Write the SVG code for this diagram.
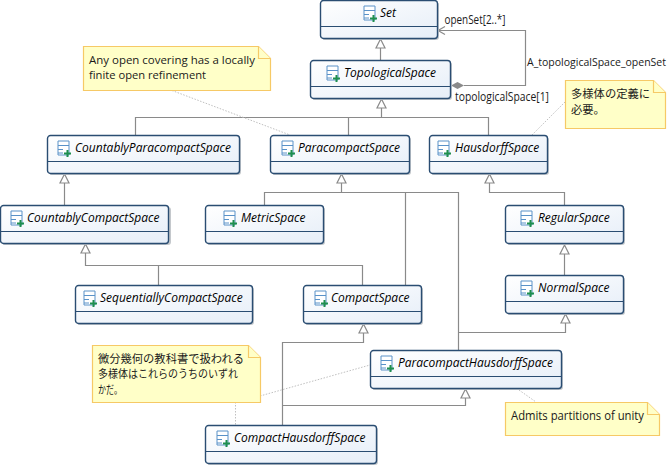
<svg xmlns="http://www.w3.org/2000/svg" width="669" height="466" viewBox="0 0 669 466">
<style>
text{font-family:"Open Sans","Noto Sans","Noto Sans CJK JP",sans-serif;font-size:12px;fill:#1a1a1a}
.n{font-style:italic;font-size:12px;fill:#000}
.s{font-size:11.4px}
.a{font-size:10.5px}
.box{fill:url(#g);stroke:#2a4d72;stroke-width:1.4}
.sh{fill:#c4c8cc}
.div{stroke:#2a4d72;stroke-width:1.2}
.c{fill:none;stroke:#8a8a8a;stroke-width:1.2}
.d{fill:none;stroke:#c0c0c0;stroke-width:1;stroke-dasharray:1.5 1.5}
.note{fill:#ffffc8;stroke:#f6c966;stroke-width:1.2}
.tri{fill:#fff;stroke:#8a8a8a;stroke-width:1.2}
.j{font-family:"Noto Sans CJK JP",sans-serif;font-size:11.3px}
</style>
<defs>
<linearGradient id="g" x1="0" y1="0" x2="1" y2="1"><stop offset="0" stop-color="#ffffff"/><stop offset="1" stop-color="#e6eef8"/></linearGradient>
<g id="ic">
<path d="M1 1H12V15H1Z" fill="#fff" stroke="#5a92c8" stroke-width="1"/>
<path d="M1 5.500H12M1 9.500H6M1 13H6" stroke="#5a92c8" stroke-width="1" fill="none"/>
<path d="M9.500 10H11.500V12.500H14V14.500H11.500V17H9.500V14.500H7V12.500H9.500Z" fill="#1f8f4f"/>
</g>
</defs>
<g id="connectors">
<path class="c" d="M380.500 60V48"/><path class="tri" d="M380.500 39l4.500 9h-9Z"/>
<path class="c" d="M381.500 117V108M135.500 135V117.500H488.500V135M348.500 117.500V135"/><path class="tri" d="M381.500 99l4.500 9h-9Z"/>
<path class="c" d="M464 85.500H525.500V30.500H438M445 26.500L438 30.500L445 34.500"/>
<path d="M451 85.500l6.500-3.500 6.500 3.500-6.500 3.500Z" fill="#8a8a8a"/>
<path class="c" d="M64.500 205V183"/><path class="tri" d="M64.500 174l4.500 9h-9Z"/>
<path class="c" d="M341.500 183V192.500M264.500 205V192.500H458.500V350M405.500 192.500V285"/><path class="tri" d="M341.500 174l4.500 9h-9Z"/>
<path class="c" d="M489.500 183V192.500H564.500V205"/><path class="tri" d="M489.500 174l4.500 9h-9Z"/>
<path class="c" d="M564.500 275V254"/><path class="tri" d="M564.500 245l4.500 9h-9Z"/>
<path class="c" d="M565.500 323V332.500H458.500"/><path class="tri" d="M565.500 314l4.500 9h-9Z"/>
<path class="c" d="M85.500 253V265.500H362.500V285M158.500 265.500V285"/><path class="tri" d="M85.500 244l4.500 9h-9Z"/>
<path class="c" d="M363.500 333V342.500H282.500V425"/><path class="tri" d="M363.500 324l4.500 9h-9Z"/>
<path class="c" d="M465.500 398V405.500H282.500"/><path class="tri" d="M465.500 389l4.500 9h-9Z"/>
<path class="d" d="M172 90.500L290 135M565 102L532 135M260 396L370 365M235.500 402V425M519 390L536 402"/>
<text x="444.500" y="24" textLength="61" lengthAdjust="spacingAndGlyphs">openSet[2..*]</text>
<text class="a" x="527" y="66" textLength="139" lengthAdjust="spacingAndGlyphs">A_topologicalSpace_openSet</text>
<text x="455" y="101" textLength="94" lengthAdjust="spacingAndGlyphs">topologicalSpace[1]</text>
</g>
<g id="Set" transform="translate(320,0)"><rect class="sh" x="2" y="2" width="117" height="38" rx="3"/><rect class="box" x="0.500" y="0.500" width="117" height="38" rx="3"/><path class="div" d="M0.500 26.500H117.500"/><use href="#ic" x="43" y="5"/><text class="n" x="60" y="17">Set</text></g>
<g id="TopologicalSpace" transform="translate(310,60)"><rect class="sh" x="2" y="2" width="140" height="38" rx="3"/><rect class="box" x="0.500" y="0.500" width="140" height="38" rx="3"/><path class="div" d="M0.500 26.500H140.500"/><use href="#ic" x="16" y="5"/><text class="n" x="34" y="17">TopologicalSpace</text></g>
<g id="CountablyParacompactSpace" transform="translate(47,135)"><rect class="sh" x="2" y="2" width="192" height="38" rx="3"/><rect class="box" x="0.500" y="0.500" width="192" height="38" rx="3"/><path class="div" d="M0.500 26.500H192.500"/><use href="#ic" x="10" y="5"/><text class="n" x="28" y="17">CountablyParacompactSpace</text></g>
<g id="ParacompactSpace" transform="translate(270,135)"><rect class="sh" x="2" y="2" width="139" height="38" rx="3"/><rect class="box" x="0.500" y="0.500" width="139" height="38" rx="3"/><path class="div" d="M0.500 26.500H139.500"/><use href="#ic" x="11" y="5"/><text class="n" x="28" y="17">ParacompactSpace</text></g>
<g id="HausdorffSpace" transform="translate(429,135)"><rect class="sh" x="2" y="2" width="118" height="38" rx="3"/><rect class="box" x="0.500" y="0.500" width="118" height="38" rx="3"/><path class="div" d="M0.500 26.500H118.500"/><use href="#ic" x="8" y="5"/><text class="n" x="26" y="17">HausdorffSpace</text></g>
<g id="CountablyCompactSpace" transform="translate(0,205)"><rect class="sh" x="2" y="2" width="169" height="38" rx="3"/><rect class="box" x="0.500" y="0.500" width="168" height="38" rx="3"/><path class="div" d="M0.500 26.500H168.500"/><use href="#ic" x="10" y="5"/><text class="n" x="27" y="17">CountablyCompactSpace</text></g>
<g id="MetricSpace" transform="translate(205,205)"><rect class="sh" x="2" y="2" width="118" height="38" rx="3"/><rect class="box" x="0.500" y="0.500" width="118" height="38" rx="3"/><path class="div" d="M0.500 26.500H118.500"/><use href="#ic" x="18" y="5"/><text class="n" x="36" y="17">MetricSpace</text></g>
<g id="RegularSpace" transform="translate(505,205)"><rect class="sh" x="2" y="2" width="118" height="38" rx="3"/><rect class="box" x="0.500" y="0.500" width="118" height="38" rx="3"/><path class="div" d="M0.500 26.500H118.500"/><use href="#ic" x="15" y="5"/><text class="n" x="33" y="17">RegularSpace</text></g>
<g id="NormalSpace" transform="translate(505,275)"><rect class="sh" x="2" y="2" width="118" height="38" rx="3"/><rect class="box" x="0.500" y="0.500" width="118" height="38" rx="3"/><path class="div" d="M0.500 26.500H118.500"/><use href="#ic" x="15" y="5"/><text class="n" x="33" y="17">NormalSpace</text></g>
<g id="SequentiallyCompactSpace" transform="translate(75,285)"><rect class="sh" x="2" y="2" width="177" height="38" rx="3"/><rect class="box" x="0.500" y="0.500" width="177" height="38" rx="3"/><path class="div" d="M0.500 26.500H177.500"/><use href="#ic" x="8" y="5"/><text class="n" x="25" y="17">SequentiallyCompactSpace</text></g>
<g id="CompactSpace" transform="translate(303,285)"><rect class="sh" x="2" y="2" width="118" height="38" rx="3"/><rect class="box" x="0.500" y="0.500" width="118" height="38" rx="3"/><path class="div" d="M0.500 26.500H118.500"/><use href="#ic" x="11" y="5"/><text class="n" x="28" y="17">CompactSpace</text></g>
<g id="ParacompactHausdorffSpace" transform="translate(370,350)"><rect class="sh" x="2" y="2" width="191" height="38" rx="3"/><rect class="box" x="0.500" y="0.500" width="191" height="38" rx="3"/><path class="div" d="M0.500 26.500H191.500"/><use href="#ic" x="10" y="5"/><text class="n" x="28" y="17">ParacompactHausdorffSpace</text></g>
<g id="CompactHausdorffSpace" transform="translate(205,425)"><rect class="sh" x="2" y="2" width="171" height="38" rx="3"/><rect class="box" x="0.500" y="0.500" width="171" height="38" rx="3"/><path class="div" d="M0.500 26.500H171.500"/><use href="#ic" x="11" y="5"/><text class="n" x="29" y="17">CompactHausdorffSpace</text></g>
<g id="note1"><path class="note" d="M83.500 46.500H258.500L270.500 58.500V90.500H83.500Z"/><path class="note" d="M258.500 46.500V58.500H270.500"/><text class="s" x="89" y="64" textLength="166" lengthAdjust="spacingAndGlyphs">Any open covering has a locally</text><text class="s" x="89" y="79" textLength="117" lengthAdjust="spacingAndGlyphs">finite open refinement</text></g>
<g id="note2"><path class="note" d="M565.500 80.500H653.500L665.500 92.500V128.500H565.500Z"/><path class="note" d="M653.500 80.500V92.500H665.500"/><text class="j" x="571" y="98">多様体の定義に</text><text class="j" x="571" y="114">必要。</text></g>
<g id="note3"><path class="note" d="M92.500 345.500H248.500L260.500 357.500V402.500H92.500Z"/><path class="note" d="M248.500 345.500V357.500H260.500"/><text class="j" x="98" y="363" textLength="146" lengthAdjust="spacingAndGlyphs">微分幾何の教科書で扱われる</text><text class="j" x="98" y="378" textLength="140" lengthAdjust="spacingAndGlyphs">多様体はこれらのうちのいずれ</text><text class="j" x="98" y="394" textLength="24" lengthAdjust="spacingAndGlyphs">かだ。</text></g>
<g id="note4"><path class="note" d="M505.500 402.500H647.500L659.500 414.500V435.500H505.500Z"/><path class="note" d="M647.500 402.500V414.500H659.500"/><text x="511" y="420" textLength="133" lengthAdjust="spacingAndGlyphs">Admits partitions of unity</text></g>
</svg>
